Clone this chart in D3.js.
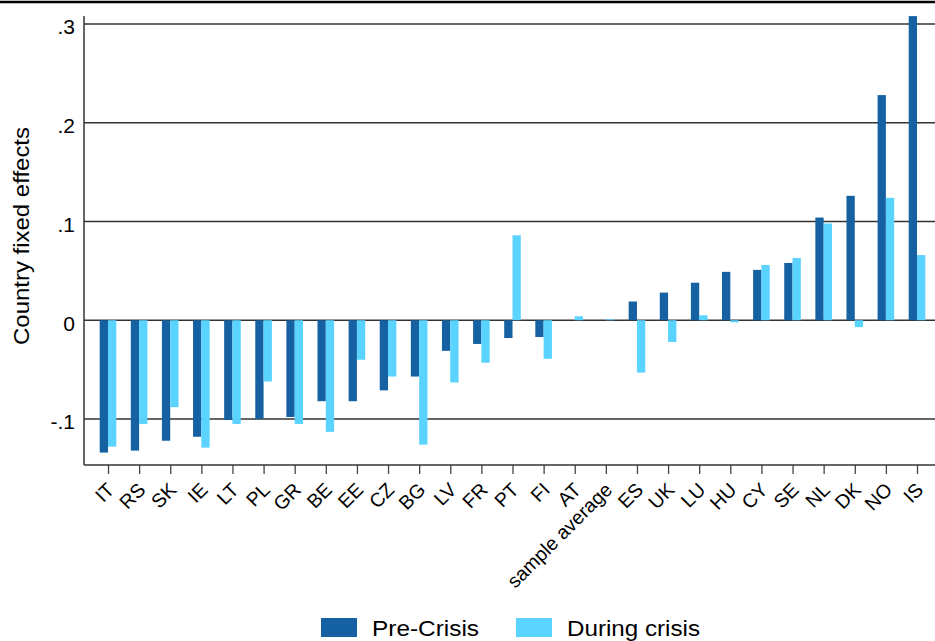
<!DOCTYPE html>
<html>
<head>
<meta charset="utf-8">
<script src="https://cdn.jsdelivr.net/npm/d3@7"></script>
<style>
  body { margin: 0; background: #fff; }
  svg { display: block; font-family: "Liberation Sans", Arial, sans-serif; }
</style>
</head>
<body>
<script>

var countries = ["IT", "RS", "SK", "IE", "LT", "PL", "GR", "BE", "EE", "CZ", "BG", "LV", "FR", "PT", "FI",
		"AT", "sample average", "ES", "UK", "LU", "HU", "CY", "SE", "NL", "DK", "NO", "IS"],
	preCrisis = [-0.134, -0.132, -0.122, -0.118, -0.101, -0.100, -0.098, -0.082, -0.082, -0.071, -0.057,
		-0.031, -0.024, -0.018, -0.017, 0, 0, 0.019, 0.028, 0.038, 0.049, 0.051, 0.058, 0.104, 0.126, 0.228, 0.308],
	duringCrisis = [-0.128, -0.105, -0.088, -0.129, -0.105, -0.062, -0.105, -0.113, -0.040, -0.057, -0.126,
		-0.063, -0.043, 0.086, -0.039, 0.004, 0.001, -0.053, -0.022, 0.005, -0.002, 0.056, 0.063, 0.098, -0.007, 0.124, 0.066],
	yTicks = [-0.1, 0, 0.1, 0.2, 0.3],
	yTickLabels = ["-.1", "0", ".1", ".2", ".3"],
	seriesNames = ["Pre-Crisis", "During crisis"],
	colorSet = ["#1561a1", "#5bd3ff"];

var width = 935,
	height = 641,
	lPad = 84,
	tPad = 16,
	bPad = 465,
	barW = 8.3;

var svg = d3.select("body")
	.append("svg")
	.attr("width", width)
	.attr("height", height);

// top frame line
svg.append("line")
	.attr("x1", 0).attr("x2", width)
	.attr("y1", 2).attr("y2", 2)
	.attr("stroke", "#000")
	.attr("stroke-width", 2.6);

var xScale = d3.scalePoint()
	.domain(countries)
	.range([108, 917]);

var yScale = d3.scaleLinear()
	.domain([-0.1, 0.3])
	.range([419, 24]);

// gridlines
svg.append("g")
	.selectAll("line")
	.data(yTicks)
	.enter()
	.append("line")
	.attr("x1", lPad)
	.attr("x2", width)
	.attr("y1", function(d) { return yScale(d); })
	.attr("y2", function(d) { return yScale(d); })
	.attr("stroke", "#333")
	.attr("stroke-width", 1.3);

// bars
var series = [preCrisis, duringCrisis];
series.forEach(function(vals, s) {
	svg.append("g")
		.selectAll("rect")
		.data(vals)
		.enter()
		.append("rect")
		.attr("x", function(d, i) { return xScale(countries[i]) - barW + s*barW; })
		.attr("y", function(d) { return Math.min(yScale(d), yScale(0)); })
		.attr("width", barW)
		.attr("height", function(d) { return Math.abs(yScale(d) - yScale(0)); })
		.attr("fill", colorSet[s]);
});

// y axis
var yAxis = d3.axisLeft(yScale)
	.tickValues(yTicks)
	.tickSize(0)
	.tickPadding(9)
	.tickFormat(function(d, i) { return yTickLabels[i]; });

var gy = svg.append("g")
	.attr("transform", "translate(" + lPad + ",0)")
	.call(yAxis);
gy.select(".domain").remove();
gy.selectAll("text")
	.style("font-size", "21px")
	.style("font-family", "'Liberation Sans', Arial, sans-serif")
	.attr("fill", "#000")
	.attr("dy", "0.47em");

svg.append("line")
	.attr("x1", lPad).attr("x2", lPad)
	.attr("y1", tPad).attr("y2", bPad)
	.attr("stroke", "#333")
	.attr("stroke-width", 1.5);

// x axis
var xAxis = d3.axisBottom(xScale)
	.tickSize(9)
	.tickPadding(0);

var gx = svg.append("g")
	.attr("transform", "translate(0," + bPad + ")")
	.call(xAxis);
gx.select(".domain").remove();
gx.selectAll(".tick line").attr("stroke", "#444").attr("stroke-width", 1.3);
gx.selectAll("text")
	.style("font-size", "19.5px")
	.style("font-family", "'Liberation Sans', Arial, sans-serif")
	.attr("fill", "#000")
	.style("text-anchor", "end")
	.attr("x", 0)
	.attr("y", 0)
	.attr("dx", 0)
	.attr("dy", 0)
	.attr("transform", "translate(7,26) rotate(-45)");

svg.append("line")
	.attr("x1", lPad).attr("x2", width)
	.attr("y1", bPad).attr("y2", bPad)
	.attr("stroke", "#333")
	.attr("stroke-width", 1.5);

// y title
svg.append("text")
	.attr("transform", "translate(28.5,236) rotate(-90)")
	.attr("text-anchor", "middle")
	.attr("textLength", 218)
	.attr("lengthAdjust", "spacingAndGlyphs")
	.style("font-size", "22px")
	.text("Country fixed effects");

// legend
var legX = [321, 516],
	legLen = [107, 133];
seriesNames.forEach(function(name, s) {
	svg.append("rect")
		.attr("x", legX[s])
		.attr("y", 618)
		.attr("width", 36)
		.attr("height", 19)
		.attr("fill", colorSet[s]);
	svg.append("text")
		.attr("x", legX[s] + 51)
		.attr("y", 636)
		.attr("textLength", legLen[s])
		.attr("lengthAdjust", "spacingAndGlyphs")
		.style("font-size", "22.5px")
		.text(name);
});

</script>
</body>
</html>
